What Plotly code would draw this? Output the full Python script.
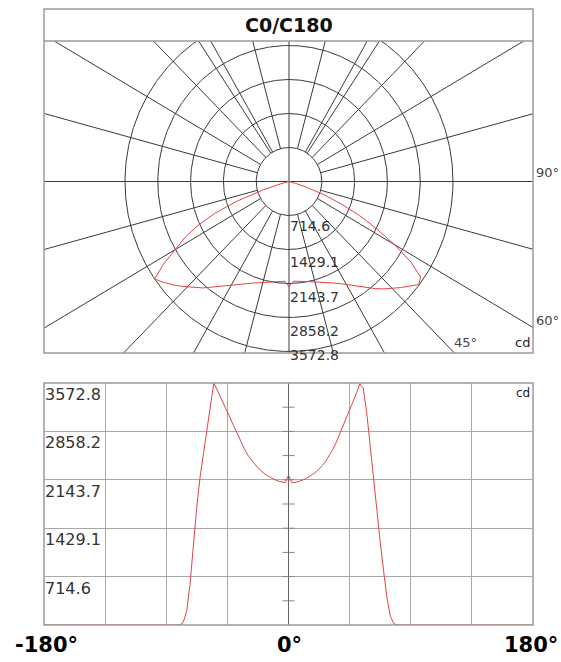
import numpy as np
import plotly.graph_objects as go

# ---------------- data ----------------
ring_values = [714.6, 1429.1, 2143.7, 2858.2, 3572.8]
ring_labels = ["714.6", "1429.1", "2143.7", "2858.2", "3572.8"]
gamma_deg = [-180, -90, -85, -82.5, -80, -77.5, -75, -72.5, -70, -67.5, -65, -62.5, -60,
             -57.5, -55, -52.5, -50, -47.5, -45, -42.5, -40, -37.5, -35, -32.5, -30,
             -27.5, -25, -22.5, -20, -17.5, -15, -12.5, -10, -7.5, -5, -2.5, 0,
             2.5, 5, 7.5, 10, 12.5, 15, 17.5, 20, 22.5, 25, 27.5, 30, 32.5, 35,
             37.5, 40, 42.5, 45, 47.5, 50, 52.5, 55, 57.5, 60, 62.5, 65, 67.5, 70,
             72.5, 75, 77.5, 80, 82.5, 85, 90, 180]
intensity_cd = [0, 0, 0, 0, 0, 40, 200, 600, 1200, 1750, 2200, 2560, 2880,
                3250, 3572.8, 3470, 3360, 3250, 3130, 3020, 2920, 2800, 2690, 2600, 2510,
                2440, 2380, 2320, 2270, 2230, 2200, 2170, 2145, 2125, 2110, 2100, 2210,
                2100, 2105, 2115, 2135, 2160, 2185, 2220, 2255, 2300, 2355, 2420, 2500, 2590, 2690,
                2810, 2940, 3060, 3180, 3300, 3420, 3560, 3500, 3150, 2650, 2150, 1700, 1230, 800,
                400, 130, 20, 0, 0, 0, 0, 0]
spoke_deg = list(range(0, 360, 15)) + [146.3, 213.7]
x_ticks = [-180, -135, -90, -45, 0, 45, 90, 135, 180]

W, H = 561, 662
L, R = 44, 533
T_TOP, T_SEP, T_BOT = 9, 41, 353
B_TOP, B_BOT = 383, 625
CX, CY = 289, 181.5
SX = 32.8 / 714.6   # px per cd (horizontal)
SY = 34.0 / 714.6   # px per cd (vertical)
LABEL_SHIFT = [0, -2, -3, -4, 6]   # vertical nudges of the polar ring labels (px)

GRID = "#3a3a3a"
FRAME = "#9a9a9a"
RED = "#e04448"
FONT = "DejaVu Sans"

def px(xp):
    return xp / W

def py(yp):
    return 1 - yp / H

fig = go.Figure()

# ---------- polar grid ----------
th = np.linspace(0, 2 * np.pi, 721)
for r in ring_values:
    fig.add_trace(go.Scatter(x=r * np.cos(th), y=r * np.sin(th), mode="lines",
                             line=dict(color=GRID, width=1), hoverinfo="skip",
                             showlegend=False, xaxis="x", yaxis="y"))
big = 20000
for a in spoke_deg:
    t = np.deg2rad(a)
    r0 = 0 if a % 90 == 0 else ring_values[0]
    fig.add_trace(go.Scatter(x=[r0 * np.sin(t), big * np.sin(t)],
                             y=[-r0 * np.cos(t), -big * np.cos(t)], mode="lines",
                             line=dict(color=GRID, width=1), hoverinfo="skip",
                             showlegend=False, xaxis="x", yaxis="y"))

g = np.deg2rad(np.array(gamma_deg, dtype=float))
I = np.array(intensity_cd, dtype=float)
fig.add_trace(go.Scatter(x=I * np.sin(g), y=-I * np.cos(g), mode="lines",
                         line=dict(color=RED, width=1), hoverinfo="skip",
                         showlegend=False, xaxis="x", yaxis="y"))

# ---------- cartesian ----------
for k in range(1, 10):
    v = k * ring_values[0] / 2
    fig.add_trace(go.Scatter(x=[-4.5, 4.5], y=[v, v], mode="lines",
                             line=dict(color="#888888", width=1), hoverinfo="skip",
                             showlegend=False, xaxis="x2", yaxis="y2"))
fig.add_trace(go.Scatter(x=gamma_deg, y=intensity_cd, mode="lines",
                         line=dict(color=RED, width=1), hoverinfo="skip",
                         showlegend=False, xaxis="x2", yaxis="y2"))

xr = [(L - CX) / SX, (R - CX) / SX]
yr = [-(T_BOT - CY) / SY, (CY - T_SEP) / SY]

fig.update_layout(
    width=W, height=H, autosize=False,
    margin=dict(l=0, r=0, t=0, b=0),
    paper_bgcolor="white", plot_bgcolor="white",
    xaxis=dict(domain=[px(L), px(R)], range=xr, showgrid=False, zeroline=False,
               showticklabels=False, ticks="", fixedrange=True),
    yaxis=dict(domain=[py(T_BOT), py(T_SEP)], range=yr, showgrid=False, zeroline=False,
               showticklabels=False, ticks="", fixedrange=True),
    xaxis2=dict(domain=[px(L), px(R)], range=[-180, 180], anchor="y2",
                tickvals=x_ticks, showticklabels=False, ticks="",
                showgrid=True, gridcolor="#a8a8a8", gridwidth=1, zeroline=False),
    yaxis2=dict(domain=[py(B_BOT), py(B_TOP)], range=[0, ring_values[-1]], anchor="x2",
                tickvals=ring_values, showticklabels=False, ticks="",
                showgrid=True, gridcolor="#a8a8a8", gridwidth=1, zeroline=False),
)

# zero line in cartesian
fig.add_shape(type="line", xref="x2", yref="y2", x0=0, x1=0, y0=0, y1=ring_values[-1],
              line=dict(color="#666666", width=1))

# frames
fig.add_shape(type="rect", xref="paper", yref="paper", x0=px(L), x1=px(R),
              y0=py(T_BOT), y1=py(T_TOP), line=dict(color=FRAME, width=1.5))
fig.add_shape(type="line", xref="paper", yref="paper", x0=px(L), x1=px(R),
              y0=py(T_SEP), y1=py(T_SEP), line=dict(color=FRAME, width=1.5))
fig.add_shape(type="rect", xref="paper", yref="paper", x0=px(L), x1=px(R),
              y0=py(B_BOT), y1=py(B_TOP), line=dict(color=FRAME, width=1.5))

ann = []
ann.append(dict(x=px(CX), y=py((T_TOP + T_SEP) / 2), xref="paper", yref="paper",
                text="<b>C0/C180</b>", showarrow=False, xanchor="center", yanchor="middle",
                font=dict(family=FONT, size=19, color="#111111")))
# ring labels in polar
for v, lab, sh in zip(ring_values, ring_labels, LABEL_SHIFT):
    ann.append(dict(x=0, y=-v, xref="x", yref="y", text=lab, showarrow=False,
                    xanchor="left", yanchor="top", xshift=-1, yshift=sh,
                    font=dict(family=FONT, size=14, color="#333333")))
ann.append(dict(x=px(R + 1), y=py(CY), xref="paper", yref="paper", text="90°",
                showarrow=False, xanchor="left", yanchor="bottom",
                font=dict(family=FONT, size=13, color="#444444")))
ann.append(dict(x=px(R + 1), y=py(330), xref="paper", yref="paper", text="60°",
                showarrow=False, xanchor="left", yanchor="bottom",
                font=dict(family=FONT, size=13, color="#444444")))
ann.append(dict(x=px(452), y=py(T_BOT - 1), xref="paper", yref="paper", text="45°",
                showarrow=False, xanchor="left", yanchor="bottom",
                font=dict(family=FONT, size=13, color="#444444")))
ann.append(dict(x=px(R - 1), y=py(T_BOT - 1), xref="paper", yref="paper", text="cd",
                showarrow=False, xanchor="right", yanchor="bottom",
                font=dict(family=FONT, size=13, color="#222222")))
# cartesian labels
for v, lab in zip(ring_values, ring_labels):
    ann.append(dict(x=-180, y=v, xref="x2", yref="y2", text=lab, showarrow=False,
                    xanchor="left", yanchor="top", xshift=-1, yshift=0,
                    font=dict(family=FONT, size=16, color="#333333")))
ann.append(dict(x=px(R - 1), y=py(B_TOP + 1), xref="paper", yref="paper", text="cd",
                showarrow=False, xanchor="right", yanchor="top",
                font=dict(family=FONT, size=12, color="#222222")))
ann.append(dict(x=px(13), y=py(645), xref="paper", yref="paper", text="<b>-180°</b>",
                showarrow=False, xanchor="left", yanchor="middle",
                font=dict(family=FONT, size=21, color="#000000")))
ann.append(dict(x=px(CX), y=py(645), xref="paper", yref="paper", text="<b>0°</b>",
                showarrow=False, xanchor="center", yanchor="middle",
                font=dict(family=FONT, size=21, color="#000000")))
ann.append(dict(x=px(560), y=py(645), xref="paper", yref="paper", text="<b>180°</b>",
                showarrow=False, xanchor="right", yanchor="middle",
                font=dict(family=FONT, size=21, color="#000000")))
fig.update_layout(annotations=ann)

fig.write_html("out.html", config={"displayModeBar": False, "staticPlot": True},
               post_script="document.body.style.margin='0px';document.body.style.overflow='hidden';")
